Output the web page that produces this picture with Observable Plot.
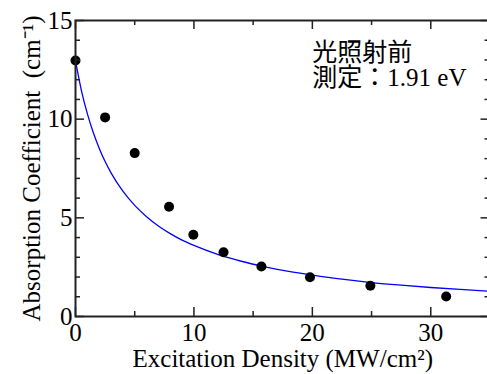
<!DOCTYPE html>
<html><head><meta charset="utf-8">
<script src="https://cdn.jsdelivr.net/npm/d3@7"></script>
<script src="https://cdn.jsdelivr.net/npm/@observablehq/plot@0.6"></script>
<style>body{margin:0;background:#fff}</style>
</head><body><div id="chart"></div>
<script>
// measured points
const densityX = [0, 2.5, 5, 7.9, 9.95, 12.5, 15.7, 19.8, 24.9, 31.3];
const absorptionY = [12.97, 10.09, 8.28, 5.56, 4.14, 3.26, 2.53, 1.99, 1.56, 1.01];
// fitted curve
const fitX = [0, 0.5, 1, 1.5, 2, 2.5, 3, 4, 5, 6, 7, 8, 9, 10, 12, 14, 16, 18, 20, 22.5, 25, 27.5, 30, 32.5, 35];
const fitY = [12.95, 11.45, 10.28, 9.32, 8.53, 7.85, 7.28, 6.35, 5.63, 5.06, 4.59, 4.2, 3.87, 3.6, 3.15, 2.8, 2.52, 2.29, 2.1, 1.89, 1.72, 1.59, 1.47, 1.37, 1.28];
// ticks and labels
const xTickLabels = [0, 10, 20, 30];
const xMinorTicks = [5, 15, 25];
const yTickLabels = [0, 5, 10, 15];
const yMinorTicks = [1, 2, 3, 4, 6, 7, 8, 9, 11, 12, 13, 14];
const xTitle = "Excitation Density (MW/cm²)";
const yTitle = "Absorption Coefficient\u00a0 (cm⁻¹)";
const annotationLines = ["光照射前", "測定：1.91 eV"];
const annotationPos = {x: 20, y: 12.72};

const points = densityX.map((x, i) => ({x, y: absorptionY[i]}));
const fit = fitX.map((x, i) => ({x, y: fitY[i]}));

const W = 487, H = 374, mL = 75, mR = -2.5, mT = 20, mB = 58;
const pw = W - mL - mR, ph = H - mT - mB;
const serif = "'Liberation Serif', 'Times New Roman', serif";
const ink = "#222";

const chart = Plot.plot({
  width: W, height: H,
  marginLeft: mL, marginRight: mR, marginTop: mT, marginBottom: mB,
  style: {fontFamily: serif, fontSize: "25px", background: "white", overflow: "visible"},
  x: {domain: [0, 35]},
  y: {domain: [0, 15]},
  marks: [
    Plot.line(fit, {x: "x", y: "y", stroke: "#0000ff", strokeWidth: 1.3, curve: "monotone-x"}),
    Plot.dot(points, {x: "x", y: "y", r: 5, fill: "black"}),
    // inward ticks
    Plot.tickX(xTickLabels, {x: d => d, insetTop: ph - 9, stroke: ink, strokeWidth: 1.5}),
    Plot.tickX(xMinorTicks, {x: d => d, insetTop: ph - 5, stroke: ink, strokeWidth: 1.5}),
    Plot.tickX(xTickLabels, {x: d => d, insetBottom: ph - 9, stroke: ink, strokeWidth: 1.5}),
    Plot.tickX(xMinorTicks, {x: d => d, insetBottom: ph - 5, stroke: ink, strokeWidth: 1.5}),
    Plot.tickY(yTickLabels, {y: d => d, insetRight: pw - 9, stroke: ink, strokeWidth: 1.5}),
    Plot.tickY(yMinorTicks, {y: d => d, insetRight: pw - 5, stroke: ink, strokeWidth: 1.5}),
    Plot.tickY(yTickLabels, {y: d => d, insetLeft: pw - 9, stroke: ink, strokeWidth: 1.5}),
    Plot.tickY(yMinorTicks, {y: d => d, insetLeft: pw - 5, stroke: ink, strokeWidth: 1.5}),
    Plot.frame({stroke: ink, strokeWidth: 2}),
    Plot.axisX({ticks: xTickLabels, tickSize: 0, tickPadding: 7, tickFormat: d => String(d), label: null, fill: "black", fontSize: 25, fontFamily: serif}),
    Plot.axisY({ticks: yTickLabels, tickSize: 0, tickPadding: 3, tickFormat: d => String(d), label: null, fill: "black", fontSize: 25, fontFamily: serif}),
    Plot.text([xTitle], {frameAnchor: "bottom", dy: 42, fontSize: 25, fontFamily: serif, textAnchor: "middle", lineAnchor: "middle", text: d => d}),
    Plot.text([yTitle], {frameAnchor: "left", dx: -44, rotate: -90, fontSize: 25, fontFamily: serif, textAnchor: "middle", lineAnchor: "middle", text: d => d}),
    Plot.text([annotationLines.join("\n")], {x: () => annotationPos.x, y: () => annotationPos.y, text: d => d,
      textAnchor: "start", lineAnchor: "middle", lineHeight: 1.0, fontSize: 25,
      fontFamily: "'Liberation Serif', 'Noto Sans CJK JP', serif"})
  ]
});
document.getElementById("chart").appendChild(chart);
</script>
</body></html>
